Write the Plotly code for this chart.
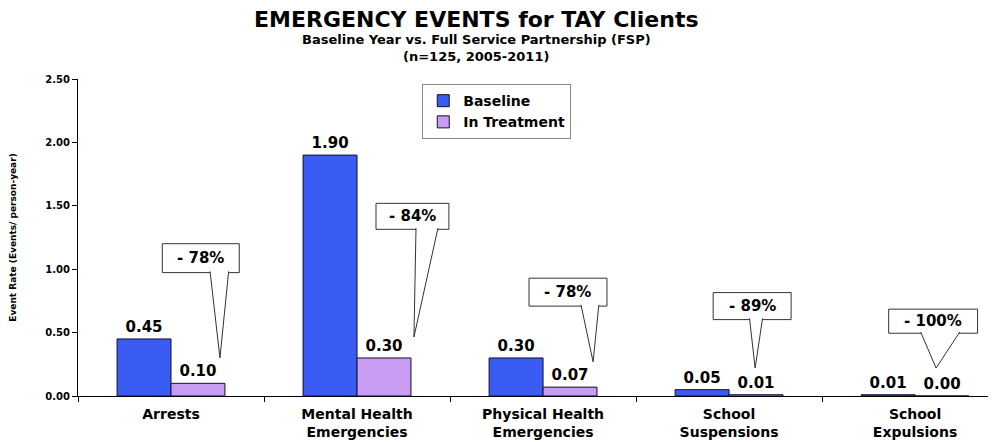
import plotly.graph_objects as go

categories = [
    "Arrests",
    "Mental Health<br>Emergencies",
    "Physical Health<br>Emergencies",
    "School<br>Suspensions",
    "School<br>Expulsions",
]
baseline = [0.45, 1.90, 0.30, 0.05, 0.01]
in_treatment = [0.10, 0.30, 0.07, 0.01, 0.00]
change_labels = ["- 78%", "- 84%", "- 78%", "- 89%", "- 100%"]
y_ticks = [0.0, 0.5, 1.0, 1.5, 2.0, 2.5]

# callout placement: box centre, box size, tail base span and tail tip (data units)
callouts = [
    # cx, cy, w, h, base0, base1, tipx, tipy
    (0.16, 1.087, 0.414, 0.228, 0.21, 0.31, 0.263, 0.30),
    (1.298, 1.417, 0.392, 0.205, 1.317, 1.435, 1.306, 0.465),
    (2.134, 0.819, 0.419, 0.220, 2.204, 2.30, 2.269, 0.27),
    (3.124, 0.709, 0.419, 0.213, 3.11, 3.18, 3.14, 0.22),
    (4.097, 0.590, 0.478, 0.190, 4.03, 4.24, 4.113, 0.22),
]

FONT = "DejaVu Sans"
BLUE = "#3a5cf2"
LILAC = "#c89cf2"

fig = go.Figure()
fig.add_trace(
    go.Bar(
        x=categories,
        y=baseline,
        name="Baseline",
        marker=dict(color=BLUE, line=dict(color="#101030", width=1)),
        text=baseline,
        texttemplate="%{y:.2f}",
        textposition="outside",
        textfont=dict(family=FONT, size=15, color="black", weight="bold"),
        cliponaxis=False,
    )
)
fig.add_trace(
    go.Bar(
        x=categories,
        y=in_treatment,
        name="In Treatment",
        marker=dict(color=LILAC, line=dict(color="#101030", width=1)),
        text=in_treatment,
        texttemplate="%{y:.2f}",
        textposition="outside",
        textfont=dict(family=FONT, size=15, color="black", weight="bold"),
        cliponaxis=False,
    )
)

shapes = []
annotations = []
for (cx, cy, w, h, b0, b1, tx, ty), lab in zip(callouts, change_labels):
    bottom = cy - h / 2
    shapes.append(
        dict(
            type="rect", xref="x", yref="y",
            x0=cx - w / 2, x1=cx + w / 2, y0=bottom, y1=cy + h / 2,
            line=dict(color="#333333", width=1), fillcolor="white", layer="above",
        )
    )
    shapes.append(
        dict(
            type="path", xref="x", yref="y",
            path=f"M {b0},{bottom + 0.01} L {tx},{ty} L {b1},{bottom + 0.01}",
            line=dict(color="#333333", width=1), fillcolor="white", layer="above",
        )
    )
    annotations.append(
        dict(
            x=cx, y=cy, xref="x", yref="y", text=lab, showarrow=False,
            font=dict(family=FONT, size=15, color="black", weight="bold"),
        )
    )

titles = [
    ("EMERGENCY EVENTS for TAY Clients", 22, 1.188),
    ("Baseline Year vs. Full Service Partnership (FSP)", 13, 1.125),
    ("(n=125, 2005-2011)", 13, 1.072),
]
for txt, size, yy in titles:
    annotations.append(
        dict(
            x=0.4336, y=yy, xref="paper", yref="paper", text=txt, showarrow=False,
            xanchor="center", yanchor="middle",
            font=dict(family=FONT, size=size, color="black", weight="bold"),
        )
    )

# the page adds an 8px body margin, so the figure is a bit smaller than the window
fig.update_layout(
    width=988,
    height=434,
    margin=dict(l=70, r=0, t=71, b=46, autoexpand=False),
    paper_bgcolor="white",
    plot_bgcolor="white",
    barmode="group",
    bargap=0.42,
    bargroupgap=0,
    shapes=shapes,
    annotations=annotations,
    showlegend=True,
    legend=dict(
        x=0.375, y=0.984, xanchor="left", yanchor="top",
        bordercolor="#888888", borderwidth=1, bgcolor="white",
        font=dict(family=FONT, size=14, color="black", weight="bold"),
        itemwidth=30, tracegroupgap=0,
    ),
    xaxis=dict(
        range=[-0.5, 4.435],
        automargin=False,
        showline=True, linecolor="black", linewidth=1,
        ticks="outside", tickson="boundaries", ticklen=5, tickcolor="black",
        ticklabelstandoff=5,
        tickfont=dict(family=FONT, size=14, color="black", weight="bold"),
        showgrid=False,
    ),
    yaxis=dict(
        range=[0, 2.5],
        automargin=False,
        tickvals=y_ticks,
        tickformat=".2f",
        showline=True, linecolor="black", linewidth=1,
        ticks="outside", ticklen=5, tickcolor="black",
        tickfont=dict(family=FONT, size=10, color="black", weight="bold"),
        showgrid=False, zeroline=False,
        title=dict(
            text="Event Rate (Events/ person-year)",
            font=dict(family=FONT, size=9, color="black", weight="bold"),
            standoff=30,
        ),
    ),
)

fig.write_html("out.html")
